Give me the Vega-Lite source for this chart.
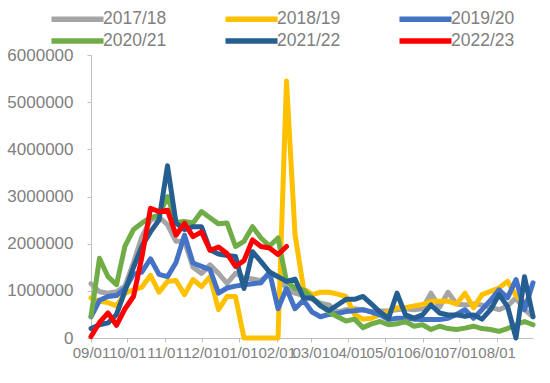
{
  "$schema": "https://vega.github.io/schema/vega-lite/v6.json",
  "autosize": {"type": "none"},
  "padding": {"left": 91, "top": 55, "right": 17, "bottom": 45},
  "width": 442,
  "height": 283,
  "background": "#ffffff",
  "config": {
    "view": {"stroke": null},
    "font": "Liberation Sans",
    "axis": {"domainColor": "#bfbfbf", "tickColor": "#bfbfbf", "labelColor": "#808080", "labelFont": "Liberation Sans", "grid": false, "title": null, "tickSize": 4},
    "legend": {"labelFont": "Liberation Sans"}
  },
  "data": {"values": [
    {"date": "2021/09/01", "2017/18": 1150000, "2018/19": 850000, "2019/20": 450000, "2020/21": 460000, "2021/22": 200000, "2022/23": 30000},
    {"date": "2021/09/08", "2017/18": 980000, "2018/19": 780000, "2019/20": 800000, "2020/21": 1690000, "2021/22": 280000, "2022/23": 330000},
    {"date": "2021/09/15", "2017/18": 950000, "2018/19": 750000, "2019/20": 880000, "2020/21": 1300000, "2021/22": 320000, "2022/23": 530000},
    {"date": "2021/09/22", "2017/18": 980000, "2018/19": 680000, "2019/20": 900000, "2020/21": 1130000, "2021/22": 500000, "2022/23": 270000},
    {"date": "2021/09/29", "2017/18": 1100000, "2018/19": 950000, "2019/20": 1050000, "2020/21": 1950000, "2021/22": 1000000, "2022/23": 620000},
    {"date": "2021/10/06", "2017/18": 1600000, "2018/19": 1020000, "2019/20": 1350000, "2020/21": 2300000, "2021/22": 1500000, "2022/23": 880000},
    {"date": "2021/10/13", "2017/18": 2150000, "2018/19": 1080000, "2019/20": 1400000, "2020/21": 2440000, "2021/22": 1950000, "2022/23": 1730000},
    {"date": "2021/10/20", "2017/18": 2500000, "2018/19": 1330000, "2019/20": 1680000, "2020/21": 2550000, "2021/22": 2250000, "2022/23": 2750000},
    {"date": "2021/10/27", "2017/18": 2570000, "2018/19": 970000, "2019/20": 1350000, "2020/21": 2600000, "2021/22": 2500000, "2022/23": 2680000},
    {"date": "2021/11/03", "2017/18": 2400000, "2018/19": 1200000, "2019/20": 1300000, "2020/21": 3000000, "2021/22": 3650000, "2022/23": 2710000},
    {"date": "2021/11/10", "2017/18": 2050000, "2018/19": 1220000, "2019/20": 1600000, "2020/21": 2450000, "2021/22": 2440000, "2022/23": 2180000},
    {"date": "2021/11/17", "2017/18": 2050000, "2018/19": 920000, "2019/20": 2180000, "2020/21": 2470000, "2021/22": 2300000, "2022/23": 2430000},
    {"date": "2021/11/24", "2017/18": 1500000, "2018/19": 1240000, "2019/20": 1590000, "2020/21": 2440000, "2021/22": 2360000, "2022/23": 2150000},
    {"date": "2021/12/01", "2017/18": 1370000, "2018/19": 1090000, "2019/20": 1520000, "2020/21": 2680000, "2021/22": 2360000, "2022/23": 2250000},
    {"date": "2021/12/08", "2017/18": 1550000, "2018/19": 1300000, "2019/20": 1450000, "2020/21": 2550000, "2021/22": 1870000, "2022/23": 1860000},
    {"date": "2021/12/15", "2017/18": 1370000, "2018/19": 600000, "2019/20": 950000, "2020/21": 2420000, "2021/22": 1780000, "2022/23": 1930000},
    {"date": "2021/12/22", "2017/18": 1160000, "2018/19": 880000, "2019/20": 1060000, "2020/21": 2440000, "2021/22": 1750000, "2022/23": 1790000},
    {"date": "2021/12/29", "2017/18": 1370000, "2018/19": 880000, "2019/20": 1100000, "2020/21": 1940000, "2021/22": 1730000, "2022/23": 1520000},
    {"date": "2022/01/05", "2017/18": 1280000, "2018/19": 0, "2019/20": 1130000, "2020/21": 2050000, "2021/22": 1050000, "2022/23": 1640000},
    {"date": "2022/01/12", "2017/18": 1250000, "2018/19": 0, "2019/20": 1150000, "2020/21": 2360000, "2021/22": 1830000, "2022/23": 2080000},
    {"date": "2022/01/19", "2017/18": 1220000, "2018/19": 0, "2019/20": 1170000, "2020/21": 2120000, "2021/22": 1620000, "2022/23": 1940000},
    {"date": "2022/01/26", "2017/18": 1360000, "2018/19": 0, "2019/20": 1400000, "2020/21": 1950000, "2021/22": 1400000, "2022/23": 1910000},
    {"date": "2022/02/02", "2017/18": 1300000, "2018/19": 0, "2019/20": 620000, "2020/21": 2120000, "2021/22": 1300000, "2022/23": 1770000},
    {"date": "2022/02/09", "2017/18": 1050000, "2018/19": 5450000, "2019/20": 1050000, "2020/21": 1200000, "2021/22": 1200000, "2022/23": 1940000},
    {"date": "2022/02/16", "2017/18": 950000, "2018/19": 2200000, "2019/20": 620000, "2020/21": 1050000, "2021/22": 1250000},
    {"date": "2022/02/23", "2017/18": 900000, "2018/19": 1050000, "2019/20": 800000, "2020/21": 1020000, "2021/22": 850000},
    {"date": "2022/03/02", "2017/18": 820000, "2018/19": 920000, "2019/20": 550000, "2020/21": 850000, "2021/22": 850000},
    {"date": "2022/03/09", "2017/18": 740000, "2018/19": 970000, "2019/20": 450000, "2020/21": 700000, "2021/22": 680000},
    {"date": "2022/03/16", "2017/18": 700000, "2018/19": 970000, "2019/20": 500000, "2020/21": 550000, "2021/22": 580000},
    {"date": "2022/03/23", "2017/18": 550000, "2018/19": 930000, "2019/20": 520000, "2020/21": 450000, "2021/22": 700000},
    {"date": "2022/03/30", "2017/18": 600000, "2018/19": 880000, "2019/20": 560000, "2020/21": 360000, "2021/22": 820000},
    {"date": "2022/04/06", "2017/18": 620000, "2018/19": 500000, "2019/20": 580000, "2020/21": 400000, "2021/22": 820000},
    {"date": "2022/04/13", "2017/18": 600000, "2018/19": 400000, "2019/20": 600000, "2020/21": 220000, "2021/22": 880000},
    {"date": "2022/04/20", "2017/18": 560000, "2018/19": 420000, "2019/20": 550000, "2020/21": 300000, "2021/22": 720000},
    {"date": "2022/04/27", "2017/18": 570000, "2018/19": 500000, "2019/20": 490000, "2020/21": 350000, "2021/22": 550000},
    {"date": "2022/05/04", "2017/18": 580000, "2018/19": 560000, "2019/20": 390000, "2020/21": 280000, "2021/22": 420000},
    {"date": "2022/05/11", "2017/18": 600000, "2018/19": 640000, "2019/20": 420000, "2020/21": 300000, "2021/22": 950000},
    {"date": "2022/05/18", "2017/18": 620000, "2018/19": 640000, "2019/20": 420000, "2020/21": 350000, "2021/22": 490000},
    {"date": "2022/05/25", "2017/18": 600000, "2018/19": 680000, "2019/20": 400000, "2020/21": 250000, "2021/22": 420000},
    {"date": "2022/06/01", "2017/18": 620000, "2018/19": 710000, "2019/20": 390000, "2020/21": 280000, "2021/22": 490000},
    {"date": "2022/06/08", "2017/18": 950000, "2018/19": 780000, "2019/20": 390000, "2020/21": 180000, "2021/22": 700000},
    {"date": "2022/06/15", "2017/18": 650000, "2018/19": 780000, "2019/20": 390000, "2020/21": 250000, "2021/22": 530000},
    {"date": "2022/06/22", "2017/18": 970000, "2018/19": 780000, "2019/20": 420000, "2020/21": 200000, "2021/22": 490000},
    {"date": "2022/06/29", "2017/18": 720000, "2018/19": 720000, "2019/20": 500000, "2020/21": 180000, "2021/22": 490000},
    {"date": "2022/07/06", "2017/18": 700000, "2018/19": 950000, "2019/20": 600000, "2020/21": 210000, "2021/22": 460000},
    {"date": "2022/07/13", "2017/18": 720000, "2018/19": 640000, "2019/20": 420000, "2020/21": 250000, "2021/22": 490000},
    {"date": "2022/07/20", "2017/18": 700000, "2018/19": 920000, "2019/20": 600000, "2020/21": 200000, "2021/22": 400000},
    {"date": "2022/07/27", "2017/18": 650000, "2018/19": 990000, "2019/20": 800000, "2020/21": 180000, "2021/22": 600000},
    {"date": "2022/08/03", "2017/18": 600000, "2018/19": 1060000, "2019/20": 1020000, "2020/21": 140000, "2021/22": 920000},
    {"date": "2022/08/10", "2017/18": 680000, "2018/19": 1200000, "2019/20": 850000, "2020/21": 200000, "2021/22": 670000},
    {"date": "2022/08/17", "2017/18": 850000, "2018/19": 900000, "2019/20": 1240000, "2020/21": 280000, "2021/22": 0},
    {"date": "2022/08/24", "2017/18": 600000, "2018/19": 750000, "2019/20": 600000, "2020/21": 350000, "2021/22": 1300000},
    {"date": "2022/08/31", "2017/18": 450000, "2019/20": 1170000, "2020/21": 280000, "2021/22": 450000}
  ]},
  "transform": [
    {"fold": ["2017/18", "2018/19", "2019/20", "2020/21", "2021/22", "2022/23"], "as": ["season", "value"]}
  ],
  "mark": {"type": "line", "strokeWidth": 5, "strokeJoin": "round", "strokeCap": "round"},
  "encoding": {
    "x": {
      "field": "date", "type": "temporal",
      "scale": {"domain": [{"year": 2021, "month": 9, "date": 1}, {"year": 2022, "month": 8, "date": 31}], "nice": false},
      "axis": {
        "values": [
          {"year": 2021, "month": 9, "date": 1}, {"year": 2021, "month": 10, "date": 1}, {"year": 2021, "month": 11, "date": 1},
          {"year": 2021, "month": 12, "date": 1}, {"year": 2022, "month": 1, "date": 1}, {"year": 2022, "month": 2, "date": 1},
          {"year": 2022, "month": 3, "date": 1}, {"year": 2022, "month": 4, "date": 1}, {"year": 2022, "month": 5, "date": 1},
          {"year": 2022, "month": 6, "date": 1}, {"year": 2022, "month": 7, "date": 1}, {"year": 2022, "month": 8, "date": 1}
        ],
        "format": "%m/%d", "labelFontSize": 15, "labelPadding": 3, "labelOverlap": false, "labelFlush": false
      }
    },
    "y": {
      "field": "value", "type": "quantitative",
      "scale": {"domain": [0, 6000000], "nice": false},
      "axis": {"values": [0, 1000000, 2000000, 3000000, 4000000, 5000000, 6000000], "format": "d", "labelFontSize": 17, "labelPadding": 14}
    },
    "color": {
      "field": "season", "type": "nominal",
      "scale": {"domain": ["2017/18", "2018/19", "2019/20", "2020/21", "2021/22", "2022/23"], "range": ["#a5a5a5", "#ffc000", "#4472c4", "#70ad47", "#255e91", "#ff0000"]},
      "legend": {
        "title": null, "orient": "none", "legendX": -24, "legendY": -46.5, "columns": 3, "direction": "horizontal",
        "symbolType": "M-3.47,0H3.47", "symbolSize": 225, "symbolStrokeWidth": 5.5,
        "labelFontSize": 17.5, "labelColor": "#808080", "labelOffset": 15, "columnPadding": 47, "rowPadding": -12
      }
    }
  }
}
